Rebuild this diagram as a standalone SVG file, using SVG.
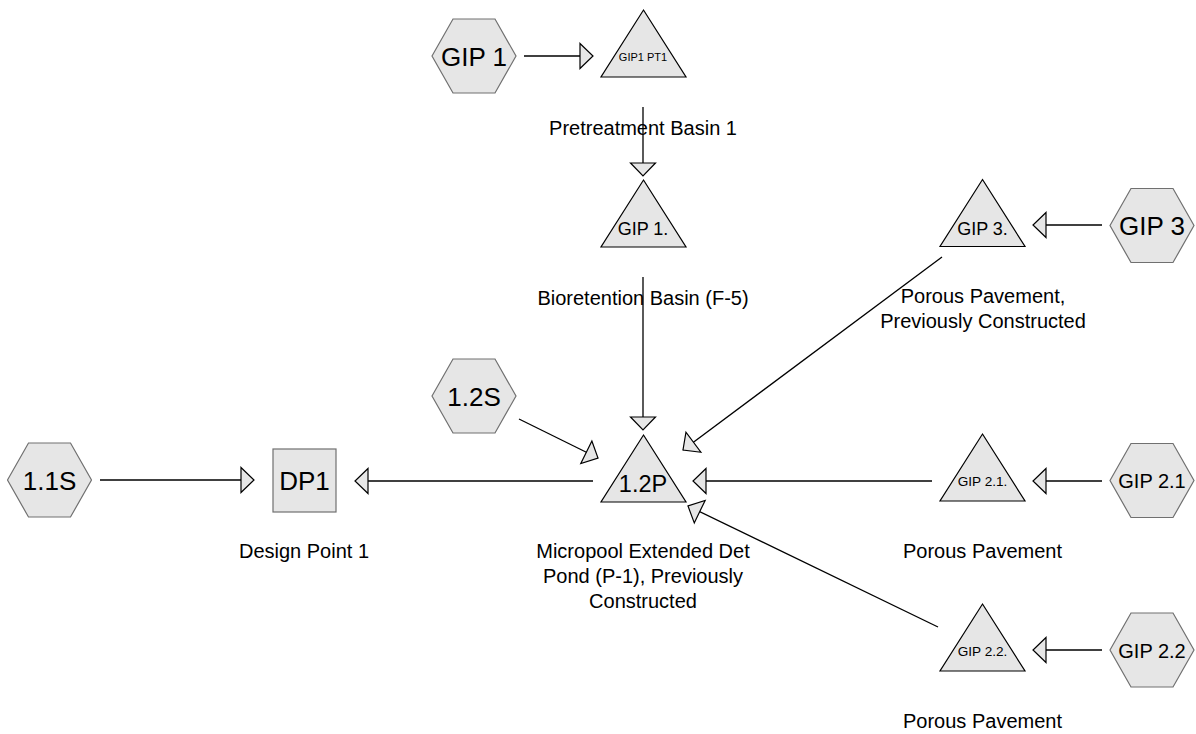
<svg xmlns="http://www.w3.org/2000/svg" xmlns:xlink="http://www.w3.org/1999/xlink" width="1196" height="734" viewBox="0 0 1196 734">
  <style>
    .hex { fill: #e6e6e6; stroke: #707070; stroke-width: 1.2; }
    .tri { fill: #e6e6e6; stroke: #000; stroke-width: 1.2; }
    .box { fill: #e6e6e6; stroke: #707070; stroke-width: 1.2; }
    .edge { fill: none; stroke: #000; stroke-width: 1.3; marker-end: url(#head); }
    text { font-family: "Liberation Sans", Arial, sans-serif; fill: #000; text-anchor: middle; }
    .lbl { font-size: 20px; }
    .big { font-size: 26px; }
  </style>
  <defs>
    <marker id="head" markerUnits="userSpaceOnUse" markerWidth="16" markerHeight="28" refX="13" refY="12.5" orient="auto" overflow="visible">
      <path d="M0,0 L13,12.5 L0,25 Z" fill="#e6e6e6" stroke="#000" stroke-width="1.2"/>
    </marker>
    <!-- hexagon centred on origin -->
    <polygon id="hexShape" points="-42,0 -21,-37 21,-37 42,0 21,37 -21,37"/>
    <!-- triangle with its apex at the origin -->
    <polygon id="triShape" points="0,0 42.5,67 -42.5,67"/>
  </defs>

  <!-- connectors -->
  <g id="connectors">
    <line class="edge" x1="524" y1="56" x2="593" y2="56"/>
    <line class="edge" x1="643" y1="107" x2="643" y2="176"/>
    <line class="edge" x1="643" y1="277" x2="643" y2="430"/>
    <line class="edge" x1="519" y1="419" x2="598" y2="458"/>
    <line class="edge" x1="942" y1="257" x2="683" y2="450"/>
    <line class="edge" x1="932" y1="481" x2="693" y2="481"/>
    <line class="edge" x1="938" y1="627" x2="688" y2="506"/>
    <line class="edge" x1="593" y1="481" x2="355" y2="481"/>
    <line class="edge" x1="100" y1="480" x2="254" y2="480"/>
    <line class="edge" x1="1102" y1="225" x2="1033" y2="225"/>
    <line class="edge" x1="1102" y1="481" x2="1033" y2="481"/>
    <line class="edge" x1="1102" y1="650" x2="1033" y2="650"/>
  </g>

  <!-- subcatchments -->
  <g id="gip1">
    <use xlink:href="#hexShape" class="hex" transform="translate(474,56)"/>
    <text class="big" x="474" y="65.5">GIP 1</text>
  </g>
  <g id="s12">
    <use xlink:href="#hexShape" class="hex" transform="translate(474,396)"/>
    <text class="big" x="474" y="405.5">1.2S</text>
  </g>
  <g id="s11">
    <use xlink:href="#hexShape" class="hex" transform="translate(49.5,480)"/>
    <text class="big" x="49.5" y="489.5">1.1S</text>
  </g>
  <g id="gip3">
    <use xlink:href="#hexShape" class="hex" transform="translate(1152,225.5)"/>
    <text class="big" x="1152" y="235">GIP 3</text>
  </g>
  <g id="gip21">
    <use xlink:href="#hexShape" class="hex" transform="translate(1152,480.5)"/>
    <text x="1152" y="488" font-size="20">GIP 2.1</text>
  </g>
  <g id="gip22">
    <use xlink:href="#hexShape" class="hex" transform="translate(1152,650)"/>
    <text x="1152" y="657.5" font-size="20">GIP 2.2</text>
  </g>

  <!-- ponds -->
  <g id="gip1pt1">
    <use xlink:href="#triShape" class="tri" transform="translate(643.5,10)"/>
    <text x="643" y="61" font-size="11">GIP1 PT1</text>
    <text class="lbl" x="643" y="135">Pretreatment Basin 1</text>
  </g>
  <g id="gip1p">
    <use xlink:href="#triShape" class="tri" transform="translate(643.5,180)"/>
    <text x="643" y="235" font-size="18">GIP 1.</text>
    <text class="lbl" x="643" y="305">Bioretention Basin (F-5)</text>
  </g>
  <g id="p12">
    <use xlink:href="#triShape" class="tri" transform="translate(643.5,435)"/>
    <text x="643" y="492" font-size="23.5">1.2P</text>
    <text class="lbl" x="643" y="558">Micropool Extended Det</text>
    <text class="lbl" x="643" y="583">Pond (P-1), Previously</text>
    <text class="lbl" x="643" y="608">Constructed</text>
  </g>
  <g id="gip3p">
    <use xlink:href="#triShape" class="tri" transform="translate(982.5,179.5)"/>
    <text x="982.5" y="235" font-size="18">GIP 3.</text>
    <text class="lbl" x="983" y="303">Porous Pavement,</text>
    <text class="lbl" x="983" y="328">Previously Constructed</text>
  </g>
  <g id="gip21p">
    <use xlink:href="#triShape" class="tri" transform="translate(982.5,434)"/>
    <text x="982.5" y="486" font-size="13.6">GIP 2.1.</text>
    <text class="lbl" x="982.5" y="558">Porous Pavement</text>
  </g>
  <g id="gip22p">
    <use xlink:href="#triShape" class="tri" transform="translate(982.5,604)"/>
    <text x="982.5" y="656" font-size="13.6">GIP 2.2.</text>
    <text class="lbl" x="982.5" y="728">Porous Pavement</text>
  </g>

  <!-- link -->
  <g id="dp1">
    <rect class="box" x="273" y="449" width="63" height="63"/>
    <text class="big" x="304.5" y="490">DP1</text>
    <text class="lbl" x="304" y="558">Design Point 1</text>
  </g>
</svg>
